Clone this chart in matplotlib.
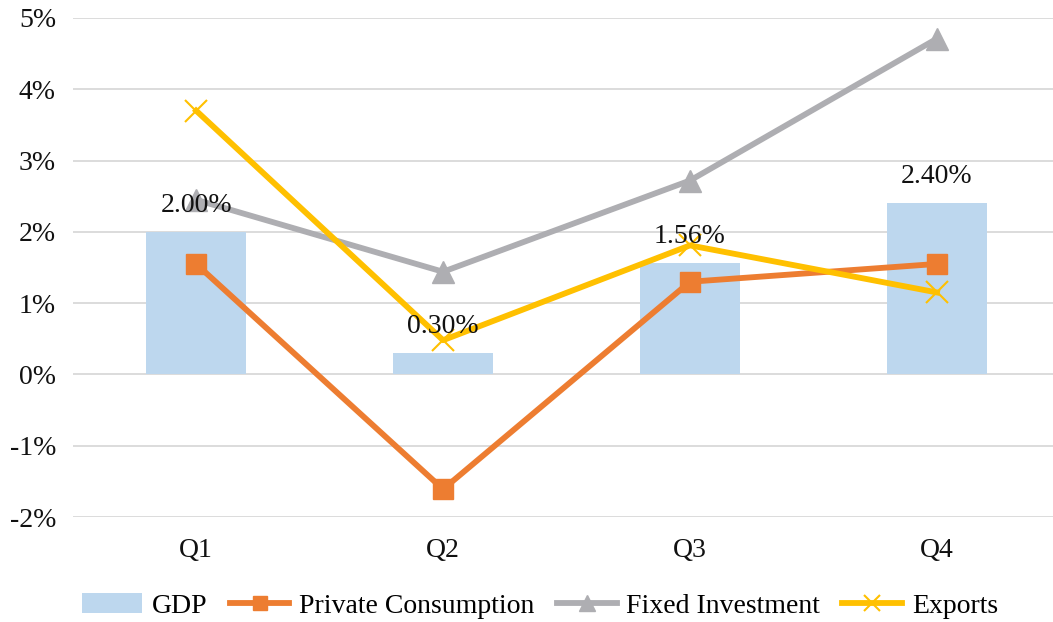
import numpy as np
import matplotlib
matplotlib.use("Agg")
import matplotlib.pyplot as plt
from matplotlib.ticker import FuncFormatter

quarters = ["Q1", "Q2", "Q3", "Q4"]
gdp = [2.00, 0.30, 1.56, 2.40]
private_consumption = [1.55, -1.61, 1.30, 1.55]
fixed_investment = [2.45, 1.44, 2.72, 4.71]
exports = [3.70, 0.48, 1.81, 1.15]

plt.rcParams["font.family"] = ["Liberation Serif", "DejaVu Serif"]

fig = plt.figure(figsize=(10.53, 6.22), dpi=100)
ax = fig.add_axes([0.069, 0.1688, 0.931, 0.8023])

x = np.arange(len(quarters))
bars = ax.bar(x, gdp, width=0.405, color="#BDD7EE", label="GDP", zorder=2)
l1, = ax.plot(x, private_consumption, color="#ED7D31", lw=4.2, marker="s", ms=14,
              label="Private Consumption", zorder=3)
l2, = ax.plot(x, fixed_investment, color="#AEAEB2", lw=4.2, marker="^", ms=16,
              label="Fixed Investment", zorder=3)
l3, = ax.plot(x, exports, color="#FFC000", lw=4.2, marker="x", ms=16, mew=1.5,
              label="Exports", zorder=3)

for xi, v in zip(x, gdp):
    ax.annotate(f"{v:.2f}%", (xi, v), xytext=(0, 10), textcoords="offset points",
                ha="center", va="bottom", fontsize=20, color="#111111", zorder=5)

ax.set_xlim(-0.5, 3.47)
ax.set_ylim(-2, 5)
ax.set_yticks(range(-2, 6))
ax.yaxis.set_major_formatter(FuncFormatter(lambda v, p: f"{v:.0f}%"))
ax.set_xticks(x)
ax.set_xticklabels(quarters)
ax.tick_params(axis="both", labelsize=20, length=0, colors="#111111")
ax.tick_params(axis="x", pad=15)
ax.tick_params(axis="y", pad=12)
ax.grid(axis="y", color="#D9D9D9", lw=1.3, zorder=0)
ax.set_axisbelow(True)
for s in ax.spines.values():
    s.set_visible(False)

fig.legend([bars, l1, l2, l3], ["GDP", "Private Consumption", "Fixed Investment", "Exports"],
           loc="center", bbox_to_anchor=(0.513, 0.026), ncol=4, frameon=False,
           fontsize=20, handlelength=2.15, handletextpad=0.35, columnspacing=0.8,
           markerscale=0.75, borderpad=0)

fig.savefig("out.png", dpi=100)
